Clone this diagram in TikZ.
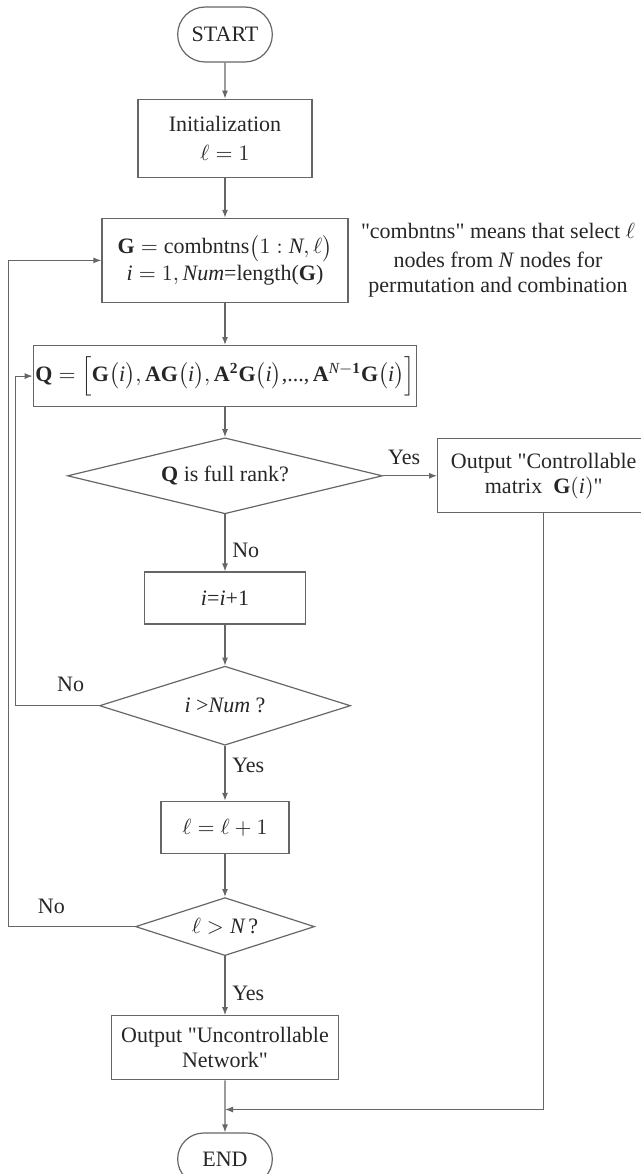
\documentclass[tikz,border=0pt]{standalone}
\usepackage{amsmath}
\usepackage{fontspec}
\setmainfont{Liberation Serif}[Ligatures=TeXOff]
\usetikzlibrary{arrows.meta, calc, positioning, shapes.geometric, shapes.misc}

\begin{document}
\begin{tikzpicture}[
	font=\fontsize{11}{12.5}\selectfont,
	wire/.style = {draw=black!60, line width=0.6pt},
	box/.style = {rectangle, wire, text=black!85, align=center, inner sep=2pt},
	terminal/.style = {rounded rectangle, wire, text=black!85, minimum width=54pt},
	decision/.style = {diamond, wire, text=black!85, inner sep=0pt},
	answer/.style = {text=black!85},
	arrow/.style = {wire, ->, >={Latex[length=4pt, width=3pt]}},
	node distance = 20pt
]

\useasboundingbox (0,0) rectangle (320.5pt,-587pt);

\node[terminal, minimum height=27.5pt] (start) at (112.5pt,-17.25pt) {START};
\node[box, below=18pt of start, minimum width=87pt, minimum height=39pt] (init) {Initialization\\[2pt]$\ell=1$};
\node[box, below=20pt of init, minimum width=123pt, minimum height=42pt] (select) {$\mathbf{G}=\mathrm{combntns}\bigl(1:\mathit{N},\ell\bigr)$\\[1pt]$\mathit{i}=1,\mathit{Num}$=length($\mathbf{G}$)};
\node[right=6pt of select, align=center, inner sep=0pt, text=black!85] (note) {"combntns" means that select $\ell$\\[2pt]nodes from \textit{N} nodes for\\permutation and combination};
\node[box, below=21pt of select, minimum width=188pt, minimum height=30.5pt, inner sep=1pt] (q box) {$\mathbf{Q}=\Bigl[\mathbf{G}\bigl(\mathit{i}\bigr),\mathbf{AG}\bigl(\mathit{i}\bigr),\mathbf{A}^{\mathbf{2}}\mathbf{G}\bigl(\mathit{i}\bigr)\text{,...,}\,\mathbf{A}^{\mathit{N}-\mathbf{1}}\mathbf{G}\bigl(\mathit{i}\bigr)\Bigr]$};
\node[decision, below=15pt of q box, minimum width=157.5pt, minimum height=38pt, aspect=4.14] (rank test) {$\mathbf{Q}$ is full rank?};
\node[box, right=27pt of rank test, minimum width=106pt, minimum height=37pt] (ctrl mat) {Output "Controllable\\matrix\ \ $\mathbf{G}(\mathit{i})$"};
\node[box, below=28.5pt of rank test, minimum width=80.5pt, minimum height=26pt] (next i) {\textit{i}=\textit{i}+1};
\node[decision, below=20.5pt of next i, minimum width=125.5pt, minimum height=39.5pt, aspect=3.18] (i test) {\textit{i} >\textit{Num} ?};
\node[box, below=27.5pt of i test, minimum width=64pt, minimum height=26pt] (next l) {$\ell=\ell+1$};
\node[decision, below=21.5pt of next l, minimum width=89.5pt, minimum height=29pt, aspect=3.09] (l test) {$\ell>\mathit{N}$\,?};
\node[box, below=29.5pt of l test, minimum width=113.5pt, minimum height=32pt] (no ctrl) {Output "Uncontrollable\\Network"};
\node[terminal, below=26pt of no ctrl, minimum height=26pt] (end) {END};

\coordinate (merge) at ($(no ctrl.south)!0.56!(end.north)$);

\draw[arrow] (start) -- (init);
\draw[arrow] (init) -- (select);
\draw[arrow] (select) -- (q box);
\draw[arrow] (q box) -- (rank test);
\draw[arrow] (rank test) -- node[answer, above=2pt, pos=0.39] (yes rank) {Yes} (ctrl mat);
\draw[arrow] (rank test) -- node[answer, right, pos=0.63] (no rank) {No} (next i);
\draw[arrow] (next i) -- (i test);
\draw[arrow] (i test) -- node[answer, right, pos=0.35] (yes i) {Yes} (next l);
\draw[arrow] (i test.west) -| node[answer, above=3.5pt, pos=0.17] (no i) {No} ([xshift=-8.5pt]q box.west) -- (q box);
\draw[arrow] (next l) -- (l test);
\draw[arrow] (l test) -- node[answer, right, pos=0.63] (yes l) {Yes} (no ctrl);
\draw[arrow] (l test.west) -| node[answer, above=3pt, pos=0.33] (no l) {No} ([xshift=-46.5pt]select.west) -- (select);
\draw[arrow] (no ctrl) -- (end);
\draw[arrow] (ctrl mat.south) |- (merge);

\end{tikzpicture}
\end{document}
